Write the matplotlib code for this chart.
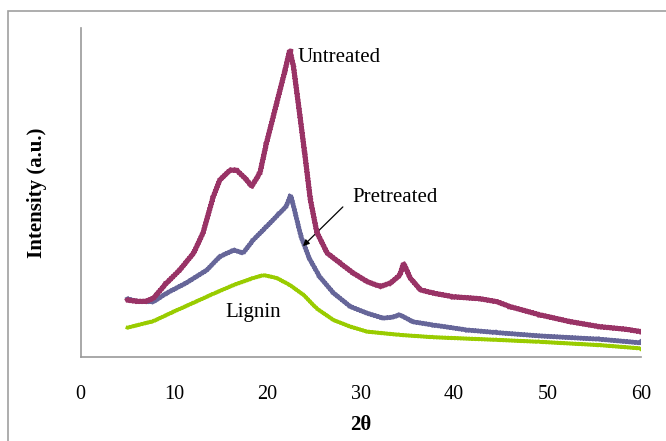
import matplotlib
matplotlib.use("Agg")
import matplotlib.pyplot as plt
from matplotlib.patches import Rectangle

# ---- data (intensity in arbitrary units, % of axis height) ----
x_untreated = [5, 6, 7, 7.8, 9.2, 10.6, 12.1, 13.1, 14.2, 14.9, 16.0, 16.7, 17.8, 18.3, 19.2, 19.9,
               21.0, 21.9, 22.4, 22.8, 23.5, 24.0, 24.6, 25.3, 26.4, 27.8, 29.2, 30.7, 32.1, 33.2,
               34.2, 34.6, 35.3, 36.4, 37.8, 39.9, 42.8, 44.6, 46.0, 49.2, 52.5, 55.6, 58.5, 60]
y_untreated = [17.4, 17.0, 17.0, 18.0, 22.6, 26.5, 31.7, 37.8, 48.8, 53.9, 56.9, 56.9, 53.9, 51.9,
               56.0, 65.1, 77.3, 87.3, 93.4, 88.3, 73.1, 62.0, 48.0, 38.0, 31.7, 28.6, 25.6, 23.0,
               21.5, 22.6, 25.0, 28.6, 24.1, 20.5, 19.5, 18.4, 17.8, 16.9, 15.4, 12.9, 10.8, 9.3,
               8.5, 7.8]

x_pretreated = [5, 6, 7.8, 9.2, 11.3, 13.5, 14.9, 16.4, 17.4, 18.5, 19.9, 21.3, 22.0, 22.5, 22.9,
                23.6, 24.5, 25.6, 27.1, 28.9, 30.7, 32.4, 33.4, 34.2, 35.6, 37.8, 41.4, 44.6,
                49.2, 55.6, 60]
y_pretreated = [17.8, 17.0, 16.9, 19.5, 22.6, 26.5, 30.6, 32.6, 31.7, 35.7, 39.7, 43.8, 45.8, 49.3,
                44.8, 36.7, 30.0, 24.5, 19.5, 15.4, 13.4, 11.9, 12.2, 12.9, 10.8, 9.8, 8.3, 7.5,
                6.5, 5.5, 4.4]

x_lignin = [5, 7.8, 9.9, 12.1, 14.2, 16.4, 18.5, 19.6, 21.0, 22.4, 23.9, 25.3, 27.1, 28.9, 30.7,
            34.2, 37.8, 44.6, 49.2, 55.6, 60]
y_lignin = [9.0, 11.0, 13.8, 16.6, 19.3, 22.0, 24.1, 25.0, 24.1, 22.0, 18.9, 14.8, 11.3, 9.3, 7.8,
            6.8, 6.1, 5.3, 4.7, 3.7, 2.7]

x_ticks = [0, 10, 20, 30, 40, 50, 60]
series_labels = ["Untreated", "Pretreated", "Lignin"]

# ---- figure ----
fig = plt.figure(figsize=(6.66, 4.41), dpi=100)
ax = fig.add_axes([0.1212, 0.1898, 0.8408, 0.746])

serif = "Liberation Serif"

l3, = ax.plot(x_lignin, y_lignin, color="#99CC00", lw=2.6, zorder=2, solid_joinstyle="bevel")
l2, = ax.plot(x_pretreated, y_pretreated, color="#666699", lw=3.0, zorder=3, solid_joinstyle="bevel")
l1, = ax.plot(x_untreated, y_untreated, color="#993366", lw=3.4, zorder=4, solid_joinstyle="bevel")
# jagged rendering style to mimic the diffractometer noise
l3.set_sketch_params(scale=0.8, length=3, randomness=1)
l2.set_sketch_params(scale=1.4, length=3, randomness=1)
l1.set_sketch_params(scale=1.6, length=3, randomness=1)

ax.set_xlim(0, 60)
ax.set_ylim(0, 100)
ax.set_xticks(x_ticks)
ax.set_xticklabels([str(t) for t in x_ticks], fontfamily=serif, fontsize=14.5)
ax.set_yticks([])
ax.tick_params(axis="x", length=0, pad=20)

for s in ["top", "right"]:
    ax.spines[s].set_visible(False)
for s in ["left", "bottom"]:
    ax.spines[s].set_color("#999999")
    ax.spines[s].set_linewidth(1.2)

ax.set_xlabel("2θ", fontfamily=serif, fontsize=15, fontweight="bold", labelpad=8)
ax.set_ylabel("Intensity (a.u.)", fontfamily=serif, fontsize=15, fontweight="bold", labelpad=24)

ax.text(23.2, 91, series_labels[0], fontfamily=serif, fontsize=15, va="center", ha="left")
ax.text(29.1, 48.7, series_labels[1], fontfamily=serif, fontsize=15, va="center", ha="left")
ax.text(15.5, 13.5, series_labels[2], fontfamily=serif, fontsize=15, va="center", ha="left")
ax.annotate("", xy=(23.6, 33.2), xytext=(28.3, 46.3),
            arrowprops=dict(arrowstyle="-|>", color="black", lw=0.9, mutation_scale=9))

# outer border
fig.patches.append(Rectangle((8 / 666, -0.1), 1.2, 1 - 11 / 441 + 0.1, transform=fig.transFigure,
                             fill=False, edgecolor="#A0A0A0", lw=1.2, clip_on=False))

fig.savefig("out.png", dpi=100)
